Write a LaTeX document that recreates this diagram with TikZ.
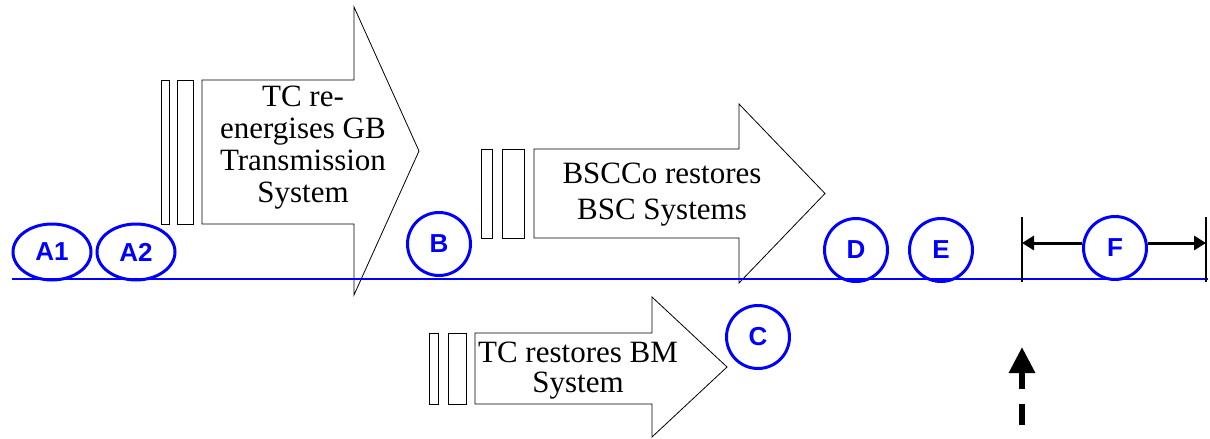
\documentclass[tikz,border=0pt]{standalone}
\usepackage{fontspec}
\setmainfont{Liberation Serif}
\setsansfont{Liberation Sans}
\usetikzlibrary{shapes, arrows.meta, positioning}

\begin{document}
\begin{tikzpicture}[x=1pt, y=-1pt]
  \tikzset{stage/.style={draw, line width=0.8pt, fill=white}}
  \tikzset{stagebar/.style={draw, line width=0.8pt}}
  \tikzset{stagetext/.style={align=center, inner sep=0pt, font=\fontsize{31}{32}\selectfont}}
  \tikzset{event/.style={ellipse, draw=blue, line width=3pt, text=blue, inner sep=0pt, minimum width=63pt, minimum height=63pt, font=\sffamily\bfseries\fontsize{26}{26}\selectfont}}
  \tikzset{wideevent/.style={event, minimum width=78pt, minimum height=56pt}}
  \tikzset{span/.style={-{Triangle[length=12pt, width=14pt]}, line width=3pt}}

  \useasboundingbox (0,0) rectangle (1210,439);

  % restoration arrows: bars, shaft, head
  \foreach \name/\ba/\bb/\bc/\bd/\xl/\yt/\yb/\xh/\ht/\hb/\xt in {tx/161/169/177/193/202/80/224/354/7/295/419, bsc/481/492/502/524/534/149/238/739/104/283/825, bm/429/438/448/466/475/333/404/652/297/437/727}{
    \draw[stagebar] (\ba,\yt) rectangle (\bb,\yb);
    \draw[stagebar] (\bc,\yt) rectangle (\bd,\yb);
    \draw[stage] (\xl,\yt) -- (\xh,\yt) -- (\xh,\ht) -- (\xt,{(\ht+\hb)/2}) -- (\xh,\hb) -- (\xh,\yb) -- (\xl,\yb) -- cycle;
  }

  \node[stagetext] (tx-text) at (303,148) {TC re-\\energises GB\\Transmission\\System};
  \node[stagetext, font=\fontsize{31}{36}\selectfont] (bsc-text) at (662,195) {BSCCo restores\\BSC Systems};
  \node[stagetext, font=\fontsize{31}{30}\selectfont] (bm-text) at (578,371) {TC restores BM\\System};

  % time line
  \coordinate (line-start) at (12,279);
  \coordinate (line-end) at (1208,279);
  \draw[blue, line width=2pt] (line-start) -- (line-end);

  % events
  \node[wideevent] (A1) at (52,252) {A1};
  \node[wideevent] (A2) at (136,252) {A2};
  \foreach \ev/\x/\y in {B/439/244, C/758/337, D/856/250, E/941/250, F/1115/248}{
    \node[event] (\ev) at (\x,\y) {\ev};
  }

  % span of F
  \coordinate (F-left-top) at (1022,217);
  \coordinate (F-left-bot) at (1022,282);
  \coordinate (F-right-top) at (1206,217);
  \coordinate (F-right-bot) at (1206,282);
  \draw[line width=2pt] (F-left-top) -- (F-left-bot);
  \draw[line width=2pt] (F-right-top) -- (F-right-bot);
  \draw[span] (F.west |- 0,243) -- (F-left-top |- 0,243);
  \draw[span] (F.east |- 0,243) -- (F-right-top |- 0,243);

  % now
  \coordinate (now-base) at (1022,425);
  \coordinate (now-tip) at (1022,347);
  \draw[line width=6pt, dash pattern=on 21pt off 15pt, -{Triangle[length=26pt, width=25pt]}] (now-base) -- (now-tip);
\end{tikzpicture}
\end{document}
